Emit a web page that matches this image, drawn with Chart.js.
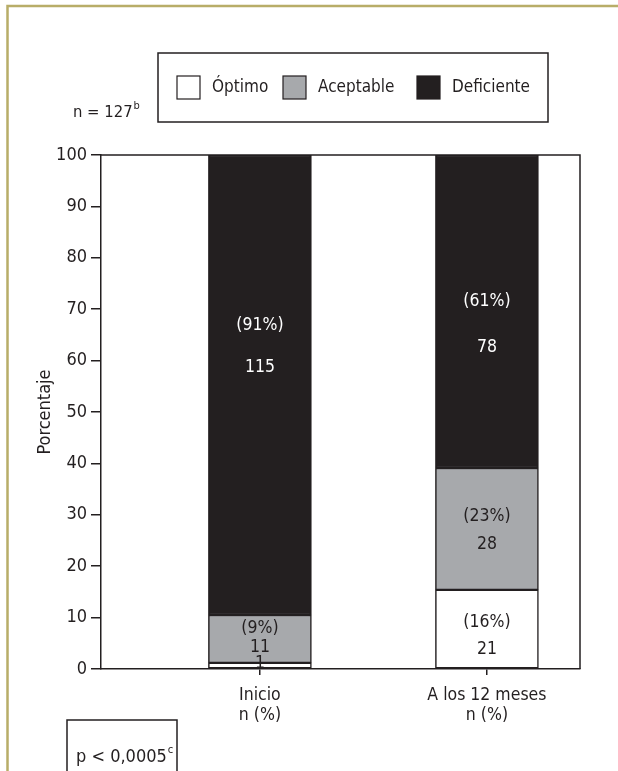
<!DOCTYPE html>
<html>
<head>
<meta charset="utf-8">
<script src="https://cdn.jsdelivr.net/npm/chart.js@4.4.1/dist/chart.umd.min.js"></script>
<style>
  html, body { margin: 0; padding: 0; background: #fff; }
  #wrap { width: 618px; height: 771px; position: relative; }
</style>
</head>
<body>
<div id="wrap"><canvas id="chart"></canvas></div>
<script>
// Categories and where each bar sits on the x axis
const categories = ["Inicio", "A los 12 meses"];
const categoryPos = [1, 2];

// Series values (% of patients)
const optimo = [1.2, 15.4];
const aceptable = [9.3, 23.7];
const deficiente = [89.5, 60.9];

// Counts and percent labels printed inside the bars
const optimoN = [1, 21];
const aceptableN = [11, 28];
const deficienteN = [115, 78];
const optimoPct = [null, 16];
const aceptablePct = [9, 23];
const deficientePct = [91, 61];

const yTicks = [0, 10, 20, 30, 40, 50, 60, 70, 80, 90, 100];

const FONT = "'DejaVu Sans Condensed', 'Liberation Sans', Arial, sans-serif";
const INK = "#231f20";
const GRAY = "#a7a9ac";
const OLIVE = "#b8ad68";

function toPoints(values) {
  return values.map((v, i) => ({ x: categoryPos[i], y: v }));
}

function pctText(p) {
  return p == null ? null : "(" + p + "%)";
}

// Where the text lines sit inside each segment (value on the y axis)
const labelLines = [
  { pct: optimoPct, n: optimoN, at: [[null, 1.0], [9.1, 3.9]] },
  { pct: aceptablePct, n: aceptableN, at: [[7.8, 4.1], [29.6, 24.3]] },
  { pct: deficientePct, n: deficienteN, at: [[66.9, 58.6], [71.6, 62.6]] },
];

// Draws frame, legend, notes and bar labels
const decorPlugin = {
  id: "decor",
  beforeDraw(chart) {
    const ctx = chart.ctx;
    ctx.save();
    ctx.fillStyle = "#fff";
    ctx.fillRect(0, 0, chart.width, chart.height);
    // page border (top and left)
    ctx.strokeStyle = OLIVE;
    ctx.lineWidth = 2.5;
    ctx.beginPath();
    ctx.moveTo(7.5, chart.height);
    ctx.lineTo(7.5, 6);
    ctx.lineTo(chart.width, 6);
    ctx.stroke();
    ctx.restore();
  },
  afterDatasetsDraw(chart) {
    const ctx = chart.ctx;
    const { left, right, top, bottom } = chart.chartArea;
    ctx.save();

    // bar labels
    ctx.font = "17.5px " + FONT;
    ctx.textAlign = "center";
    ctx.textBaseline = "middle";
    const yScale = chart.scales.y;
    labelLines.forEach((lab, dsIndex) => {
      const meta = chart.getDatasetMeta(dsIndex);
      meta.data.forEach((bar, i) => {
        ctx.fillStyle = dsIndex === 2 ? "#fff" : INK;
        const [pAt, nAt] = lab.at[i];
        const p = pctText(lab.pct[i]);
        if (p) ctx.fillText(p, bar.x, yScale.getPixelForValue(pAt));
        ctx.fillText(String(lab.n[i]), bar.x, yScale.getPixelForValue(nAt));
      });
    });

    // plot frame (top and right)
    ctx.strokeStyle = INK;
    ctx.lineWidth = 1.5;
    ctx.beginPath();
    ctx.moveTo(left, top);
    ctx.lineTo(right, top);
    ctx.lineTo(right, bottom);
    ctx.stroke();

    // y axis title
    ctx.save();
    ctx.translate(45, (top + bottom) / 2);
    ctx.rotate(-Math.PI / 2);
    ctx.fillStyle = INK;
    ctx.font = "18px " + FONT;
    ctx.fillText("Porcentaje", 0, 0);
    ctx.restore();

    // legend box
    ctx.lineWidth = 1.5;
    ctx.strokeStyle = INK;
    ctx.strokeRect(158, 53, 390, 69);
    const starts = [177, 283, 417];
    chart.data.datasets.forEach((ds, k) => {
      const x = starts[k];
      ctx.fillStyle = ds.backgroundColor;
      ctx.fillRect(x, 76, 23, 23);
      ctx.lineWidth = 1.2;
      ctx.strokeRect(x, 76, 23, 23);
      ctx.fillStyle = INK;
      ctx.font = "17px " + FONT;
      ctx.textAlign = "left";
      ctx.fillText(ds.label, x + 35, 88);
    });

    // sample size note
    ctx.font = "16.5px " + FONT;
    ctx.textAlign = "left";
    ctx.fillText("n = 127", 73, 113);
    let w = ctx.measureText("n = 127").width;
    ctx.font = "11px " + FONT;
    ctx.fillText("b", 73 + w + 1, 106);

    // p value box
    ctx.lineWidth = 1.5;
    ctx.strokeRect(67, 720, 110, 60);
    ctx.font = "18px " + FONT;
    ctx.fillText("p < 0,0005", 76, 757);
    w = ctx.measureText("p < 0,0005").width;
    ctx.font = "11px " + FONT;
    ctx.fillText("c", 76 + w + 1, 750);

    ctx.restore();
  },
};

new Chart(document.getElementById("chart"), {
  type: "bar",
  data: {
    datasets: [
      { label: "Óptimo", data: toPoints(optimo), backgroundColor: "#ffffff" },
      { label: "Aceptable", data: toPoints(aceptable), backgroundColor: GRAY },
      { label: "Deficiente", data: toPoints(deficiente), backgroundColor: INK },
    ].map(ds => Object.assign(ds, {
      borderColor: INK,
      borderWidth: 1.5,
      borderSkipped: false,
      barThickness: 103,
    })),
  },
  options: {
    responsive: true,
    maintainAspectRatio: false,
    animation: false,
    layout: { padding: { top: 155, right: 38, left: 0, bottom: 0 } },
    plugins: { legend: { display: false }, tooltip: { enabled: false } },
    scales: {
      x: {
        type: "linear",
        stacked: true,
        offset: false,
        min: 0.3,
        max: 2.41,
        afterFit: s => { s.height = 102; },
        afterBuildTicks: s => { s.ticks = categoryPos.map(v => ({ value: v })); },
        grid: { display: true, offset: false, drawOnChartArea: false, tickLength: 6, color: INK, lineWidth: 1.5 },
        border: { color: INK, width: 1.5 },
        ticks: {
          padding: 10,
          color: INK,
          font: { family: FONT, size: 17.5, lineHeight: 1.15 },
          callback: v => [categories[categoryPos.indexOf(v)], "n (%)"],
        },
      },
      y: {
        stacked: true,
        min: 0,
        max: 100,
        afterFit: s => { s.width = 101; },
        afterBuildTicks: s => { s.ticks = yTicks.map(v => ({ value: v })); },
        grid: { display: true, drawOnChartArea: false, tickLength: 10, color: INK, lineWidth: 1.5 },
        border: { color: INK, width: 1.5 },
        ticks: { padding: 4, color: INK, font: { family: FONT, size: 18 } },
      },
    },
  },
  plugins: [decorPlugin],
});
</script>
</body>
</html>
